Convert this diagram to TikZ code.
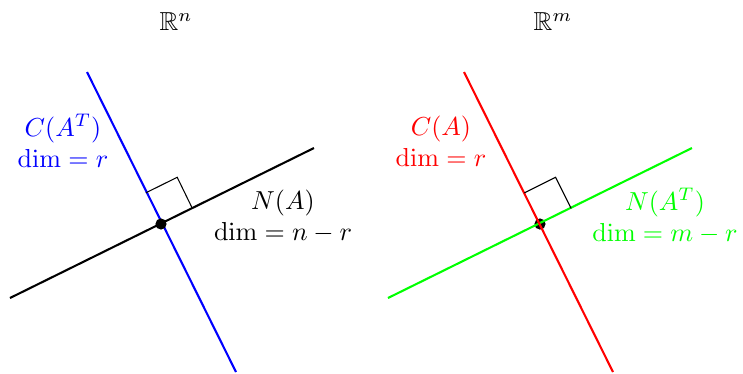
\documentclass[tikz,border=0pt]{standalone}
\usepackage{amsmath,amssymb}
\usetikzlibrary{calc}

\begin{document}
\begin{tikzpicture}[x=0.0135cm,y=-0.0135cm,
  dot/.style={circle,fill=black,inner sep=0pt,minimum size=4.3pt},
  sub/.style={thick},
  lab/.style={align=center}]
\useasboundingbox (0,0) rectangle (743,373);
% left picture: R^n
\coordinate (c1) at (161,224);
\coordinate (rowA) at (87,72);  \coordinate (rowB) at (236,372);
\coordinate (nulA) at (10,298); \coordinate (nulB) at (314,148);
\draw[sub] (nulA) -- (nulB);
\draw[sub,blue] (rowA) -- (rowB);
\coordinate (ra) at ($(c1)!0.205!(rowA)$);
\coordinate (na) at ($(c1)!0.205!(nulB)$);
\draw (ra) -- ($(ra)+(na)-(c1)$) -- (na);
\node[dot] (o1) at (c1) {};
\node (Rn) at (176,22) {$\mathbb{R}^n$};
\node[lab,blue] (rowlab) at (63,141) {$C(A^T)$\\$\dim = r$};
\node[lab] (nullab) at (283,216) {$N(A)$\\$\dim = n-r$};
% right picture: R^m
\coordinate (c2) at (540,224);
\coordinate (colA) at (464,72);  \coordinate (colB) at (613,372);
\coordinate (lnulA) at (388,298); \coordinate (lnulB) at (692,148);
\node[dot] (o2) at (c2) {};
\draw[sub,green] (lnulA) -- (lnulB);
\draw[sub,red] (colA) -- (colB);
\coordinate (ca) at ($(c2)!0.205!(colA)$);
\coordinate (la) at ($(c2)!0.205!(lnulB)$);
\draw (ca) -- ($(ca)+(la)-(c2)$) -- (la);
\node (Rm) at (553,22) {$\mathbb{R}^m$};
\node[lab,red] (collab) at (441,141) {$C(A)$\\$\dim = r$};
\node[lab,green] (lnullab) at (665,216) {$N(A^T)$\\$\dim = m-r$};
\end{tikzpicture}
\end{document}
